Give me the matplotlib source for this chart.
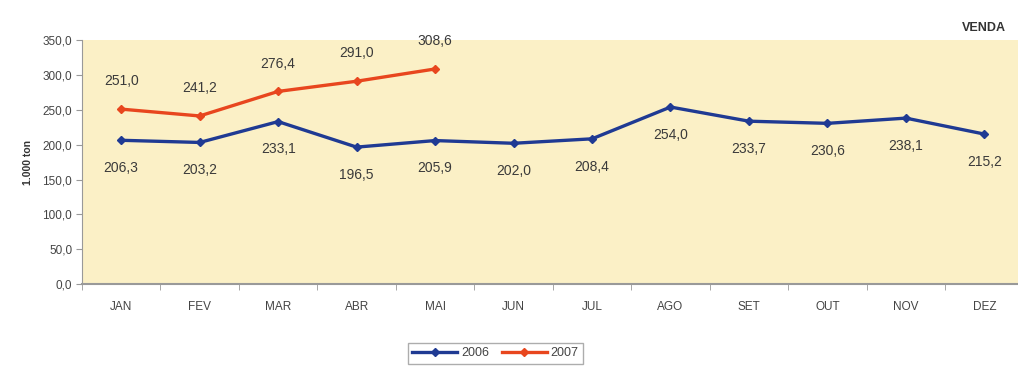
import matplotlib
matplotlib.use("Agg")
import matplotlib.pyplot as plt
from matplotlib.ticker import FuncFormatter

months = ["JAN", "FEV", "MAR", "ABR", "MAI", "JUN", "JUL", "AGO", "SET", "OUT", "NOV", "DEZ"]
v2006 = [206.3, 203.2, 233.1, 196.5, 205.9, 202.0, 208.4, 254.0, 233.7, 230.6, 238.1, 215.2]
v2007 = [251.0, 241.2, 276.4, 291.0, 308.6]
yticks = [0, 50, 100, 150, 200, 250, 300, 350]

plt.rcParams['font.family'] = ['Liberation Sans', 'DejaVu Sans']

fig = plt.figure(figsize=(10.18, 3.68), dpi=100)
ax = fig.add_axes([0.0805, 0.228, 0.925, 0.663])
ax.set_facecolor('#FBF0C6')

blue = '#1F3A93'
red = '#E8461E'
x06 = list(range(len(v2006)))
x07 = list(range(len(v2007)))
ax.plot(x06, v2006, color=blue, lw=2.4, marker='D', ms=4.5, label='2006', zorder=3)
ax.plot(x07, v2007, color=red, lw=2.4, marker='D', ms=4.5, label='2007', zorder=3)

for x, v in zip(x06, v2006):
    ax.annotate(f"{v:.1f}".replace('.', ','), (x, v), xytext=(0, -20), textcoords='offset points',
                ha='center', va='center', fontsize=10, color='#3a3a3a')
for x, v in zip(x07, v2007):
    ax.annotate(f"{v:.1f}".replace('.', ','), (x, v), xytext=(0, 20), textcoords='offset points',
                ha='center', va='center', fontsize=10, color='#3a3a3a')

ax.set_xlim(-0.5, 11.5)
ax.set_ylim(0, 350)
ax.set_yticks(yticks)
ax.yaxis.set_major_formatter(FuncFormatter(lambda v, p: f"{v:.1f}".replace('.', ',')))
ax.set_xticks(x06)
ax.set_xticklabels(months)
ax.set_xticks([i + 0.5 for i in range(-1, 12)], minor=True)
ax.tick_params(axis='x', which='major', length=0, pad=12, labelsize=8.5, labelcolor='#444444')
ax.tick_params(axis='x', which='minor', length=4, color='#999999', direction='out')
ax.tick_params(axis='y', length=4, color='#999999', labelsize=8.5, labelcolor='#444444', pad=3)

for s in ['top', 'right']:
    ax.spines[s].set_visible(False)
ax.spines['left'].set_color('#999999')
ax.spines['bottom'].set_color('#999999')
ax.spines['bottom'].set_linewidth(1.5)

ax.set_ylabel('1.000 ton', fontsize=7.5, fontweight='bold', color='#333333', labelpad=7)

fig.text(0.988, 0.925, 'VENDA', ha='right', va='center', fontsize=9, fontweight='bold', color='#333333')

leg = fig.legend(loc='center', bbox_to_anchor=(0.4865, 0.04), ncol=2, frameon=True, fancybox=False,
                 fontsize=9, handlelength=3.6, handletextpad=0.3, columnspacing=1.0,
                 borderpad=0.35, edgecolor='#999999')
leg.get_frame().set_linewidth(1.0)
for t in leg.get_texts():
    t.set_color('#444444')

fig.savefig('out.png', dpi=100)
